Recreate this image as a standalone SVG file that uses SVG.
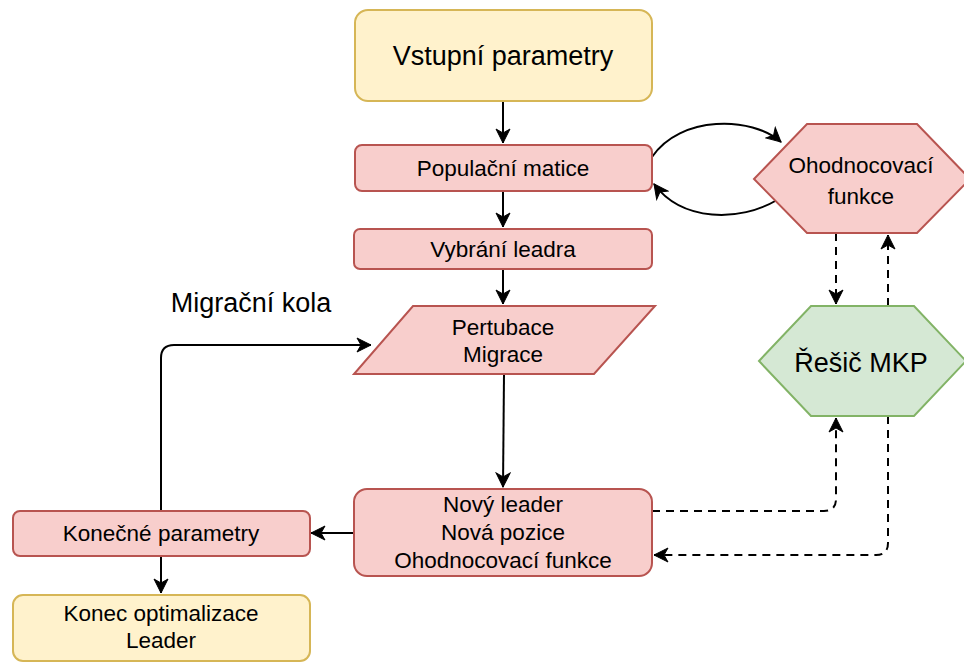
<svg xmlns="http://www.w3.org/2000/svg" width="964" height="662" viewBox="0 0 964 662">
  <style>
    .red { fill: #f8cecc; stroke: #b85450; stroke-width: 2; }
    .yellow { fill: #fff2cc; stroke: #d6b656; stroke-width: 2; }
    .green { fill: #d5e8d4; stroke: #82b366; stroke-width: 2; }
    text { font-family: "Liberation Sans", Arial, sans-serif; fill: #000; text-anchor: middle; }
    .s { font-size: 22.5px; }
    .l { font-size: 27px; }
    .edge { fill: none; stroke: #000; stroke-width: 2; }
    .dash { stroke-dasharray: 8 6; }
  </style>
  <defs>
    <marker id="arrow" markerUnits="userSpaceOnUse" markerWidth="16" markerHeight="16" viewBox="0 0 16 16" refX="15" refY="8" orient="auto">
      <path d="M1,1 L15,8 L1,15 L5,8 Z" fill="#000" stroke="#000" stroke-width="1"/>
    </marker>
  </defs>

  <g id="connectors">
    <path class="edge" d="M503,101 V143" marker-end="url(#arrow)"/>
    <path class="edge" d="M503,191 V227" marker-end="url(#arrow)"/>
    <path class="edge" d="M503,269 V304" marker-end="url(#arrow)"/>
    <path class="edge" d="M504,374 L503,487" marker-end="url(#arrow)"/>
    <path class="edge" d="M354,533 H311" marker-end="url(#arrow)"/>
    <path class="edge" d="M161,556 V593" marker-end="url(#arrow)"/>
    <path class="edge" d="M161,510 V358 Q161,345 174,345 H371" marker-end="url(#arrow)"/>
    <path class="edge" d="M652,157 C680,115 752,116 781,142" marker-end="url(#arrow)"/>
    <path class="edge" d="M777,200 C740,222 682,222 654,184" marker-end="url(#arrow)"/>
    <path class="edge dash" d="M836,233 V304" marker-end="url(#arrow)"/>
    <path class="edge dash" d="M888,306 V235" marker-end="url(#arrow)"/>
    <path class="edge dash" d="M652,511 H824 Q836,511 836,499 V418" marker-end="url(#arrow)"/>
    <path class="edge dash" d="M888,416 V543 Q888,555 876,555 H654" marker-end="url(#arrow)"/>
  </g>

  <g id="vstupni-parametry">
    <rect class="yellow" x="355" y="10" width="297" height="91" rx="13"/>
    <text class="l" x="503" y="65">Vstupní parametry</text>
  </g>

  <g id="populacni-matice">
    <rect class="red" x="355" y="145" width="297" height="46" rx="7"/>
    <text class="s" x="503" y="176">Populační matice</text>
  </g>

  <g id="vybrani-leadra">
    <rect class="red" x="354" y="229" width="298" height="40" rx="6"/>
    <text class="s" x="503" y="257">Vybrání leadra</text>
  </g>

  <g id="pertubace-migrace">
    <polygon class="red" points="413,306 655,306 594,374 354,374"/>
    <text class="s" x="503" y="335">Pertubace</text>
    <text class="s" x="503" y="362">Migrace</text>
  </g>

  <g id="novy-leader">
    <rect class="red" x="354" y="489" width="298" height="87" rx="13"/>
    <text class="s" x="503" y="512">Nový leader</text>
    <text class="s" x="503" y="540">Nová pozice</text>
    <text class="s" x="503" y="568">Ohodnocovací funkce</text>
  </g>

  <g id="konecne-parametry">
    <rect class="red" x="13" y="511" width="297" height="45" rx="7"/>
    <text class="s" x="161" y="541">Konečné parametry</text>
  </g>

  <g id="konec-optimalizace">
    <rect class="yellow" x="13" y="595" width="297" height="66" rx="10"/>
    <text class="s" x="161" y="621">Konec optimalizace</text>
    <text class="s" x="161" y="648">Leader</text>
  </g>

  <g id="ohodnocovaci-funkce">
    <polygon class="red" points="754,179 807,124 917,124 970,179 917,233 807,233"/>
    <text class="s" x="861" y="173">Ohodnocovací</text>
    <text class="s" x="861" y="204">funkce</text>
  </g>

  <g id="resic-mkp">
    <polygon class="green" points="759,361 811,306 914,306 966,361 914,416 811,416"/>
    <text class="l" x="861" y="372">Řešič MKP</text>
  </g>

  <g id="migracni-kola">
    <text class="l" x="251" y="312">Migrační kola</text>
  </g>
</svg>
